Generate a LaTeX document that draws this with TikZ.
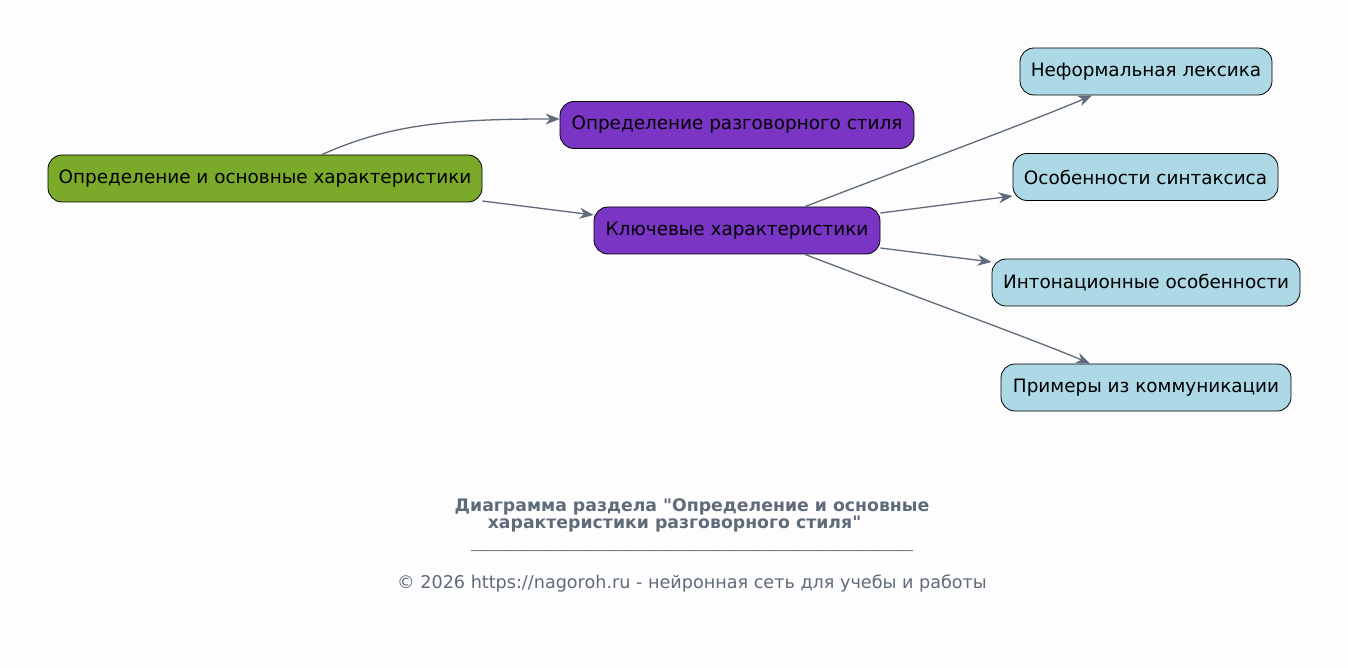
\documentclass[tikz,border=0pt]{standalone}
\usepackage{fontspec}
\setmainfont{DejaVu Sans}[Ligatures=TeXOff]
\usetikzlibrary{arrows.meta}
\definecolor{bg}{HTML}{FDFDFD}
\definecolor{edge}{HTML}{5F6B7A}
\definecolor{rootc}{HTML}{7BAA2B}
\definecolor{purp}{HTML}{7A35C4}
\definecolor{lblue}{HTML}{ADD8E6}
\tikzset{
  box/.style={draw=black, line width=0.8pt, rounded corners=14pt, inner sep=0pt, minimum height=47pt, font=\fontsize{18.4}{22}\selectfont, text=black},
  rootbox/.style={box, fill=rootc},
  purpbox/.style={box, fill=purp},
  bluebox/.style={box, fill=lblue},
  conn/.style={draw=edge, line width=1.3pt, -{Stealth[length=14pt,width=11pt,inset=4.5pt]}},
  foot/.style={text=edge, font=\fontsize{17.6}{21}\selectfont},
  ttl/.style={text=edge, font=\fontsize{17.3}{21}\selectfont\bfseries},
}
\begin{document}
\begin{tikzpicture}[x=1pt,y=-1pt]
\fill[bg] (0,0) rectangle (1348,668);
\useasboundingbox (0,0) rectangle (1348,668);
\node[rootbox, minimum width=434pt] (root) at (265,178.5) {Определение и основные характеристики};
\node[purpbox, minimum width=354pt] (p1) at (737,125) {Определение разговорного стиля};
\node[purpbox, minimum width=286pt] (p2) at (737,230.5) {Ключевые характеристики};
\node[bluebox, minimum width=252pt] (b1) at (1146,71.5) {Неформальная лексика};
\node[bluebox, minimum width=265pt] (b2) at (1145.5,177) {Особенности синтаксиса};
\node[bluebox, minimum width=308pt] (b3) at (1146,282.5) {Интонационные особенности};
\node[bluebox, minimum width=290pt] (b4) at (1146,387.5) {Примеры из коммуникации};

\draw[conn] (root.north -| 322,0) .. controls (390,124) and (450,119) .. (p1.west |- 0,119);
\draw[conn] (root.east |- 0,201) -- (p2.west |- 0,215);
\draw[conn] (p2.north -| 805,0) .. controls (900,170) and (1040,118) .. (b1.south -| 1092,0);
\draw[conn] (p2.east |- 0,213) -- (b2.west |- 0,196);
\draw[conn] (p2.east |- 0,248) -- (b3.west |- 0,262);
\draw[conn] (p2.south -| 805,0) .. controls (900,291) and (1040,342) .. (b4.north -| 1090,0);

\node[ttl] (t1) at (692,507) {Диаграмма раздела "Определение и основные};
\node[ttl] (t2) at (674.5,524) {характеристики разговорного стиля"};
\node[text=edge, font=\fontsize{13}{15}\selectfont] (sep) at (692,550) {\_\_\_\_\_\_\_\_\_\_\_\_\_\_\_\_\_\_\_\_\_\_\_\_\_\_\_\_\_\_\_\_\_\_\_\_\_\_\_\_\_\_\_\_\_\_\_\_\_\_\_\_\_\_\_\_\_\_\_\_\_\_\_\_\_\_\_\_};
\node[foot] (ft) at (692,583) {© 2026 https://nagoroh.ru - нейронная сеть для учебы и работы};
\end{tikzpicture}
\end{document}
